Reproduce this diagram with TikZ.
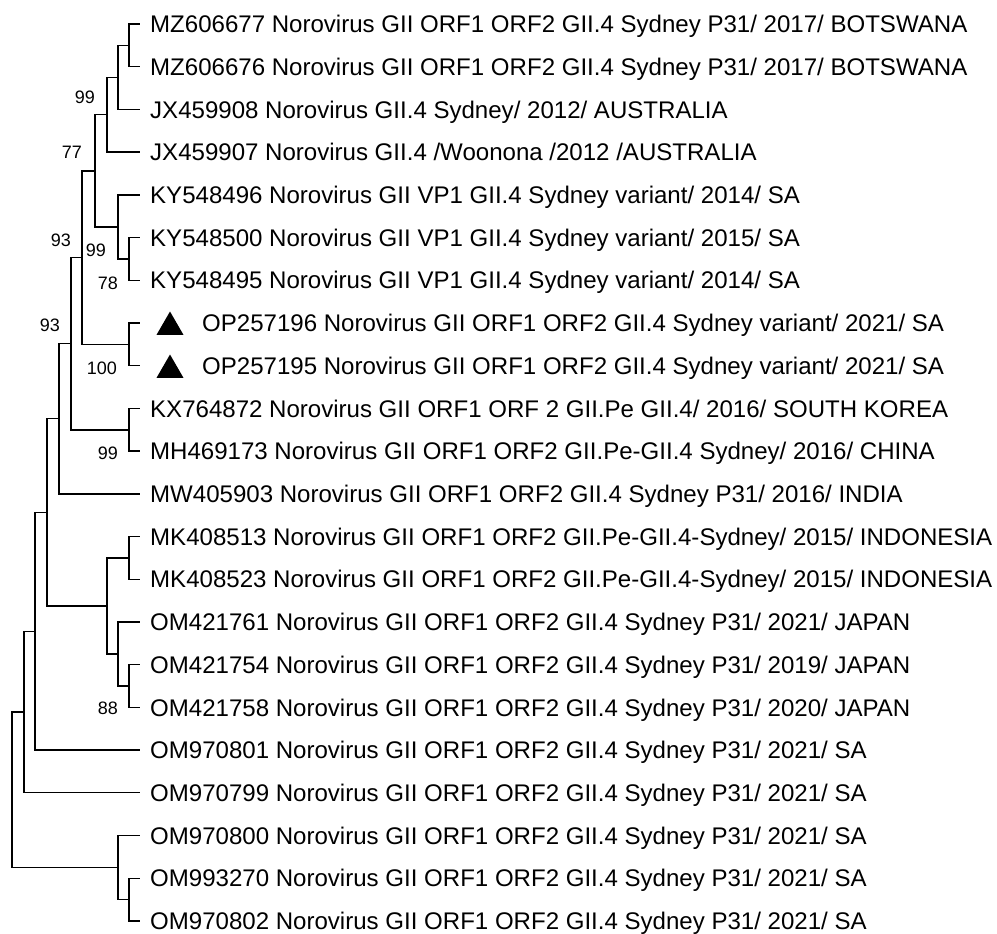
\documentclass[tikz,border=0pt]{standalone}
\usepackage{fontspec}
\setmainfont{Liberation Sans}
\usetikzlibrary{shapes.geometric}
\begin{document}
\begin{tikzpicture}[x=1pt, y=-1pt,
  branch/.style={line width=1.4pt},
  taxon/.style={anchor=base west, inner sep=0pt, font=\fontsize{24.05}{28}\selectfont},
  boot/.style={anchor=east, inner sep=0pt, font=\fontsize{18}{20}\selectfont},
  marker/.style={regular polygon, regular polygon sides=3, fill=black,
    inner sep=0pt, minimum size=31pt}]
\useasboundingbox (0,0) rectangle (997,934);
% taxa
\foreach \lab [count=\i] in {
  MZ606677 Norovirus GII ORF1 ORF2 GII.4 Sydney P31/ 2017/ BOTSWANA,
  MZ606676 Norovirus GII ORF1 ORF2 GII.4 Sydney P31/ 2017/ BOTSWANA,
  JX459908 Norovirus GII.4 Sydney/ 2012/ AUSTRALIA,
  JX459907 Norovirus GII.4 /Woonona /2012 /AUSTRALIA,
  KY548496 Norovirus GII VP1 GII.4 Sydney variant/ 2014/ SA,
  KY548500 Norovirus GII VP1 GII.4 Sydney variant/ 2015/ SA,
  KY548495 Norovirus GII VP1 GII.4 Sydney variant/ 2014/ SA,
  OP257196 Norovirus GII ORF1 ORF2 GII.4 Sydney variant/ 2021/ SA,
  OP257195 Norovirus GII ORF1 ORF2 GII.4 Sydney variant/ 2021/ SA,
  KX764872 Norovirus GII ORF1 ORF 2 GII.Pe GII.4/ 2016/ SOUTH KOREA,
  MH469173 Norovirus GII ORF1 ORF2 GII.Pe-GII.4 Sydney/ 2016/ CHINA,
  MW405903 Norovirus GII ORF1 ORF2 GII.4 Sydney P31/ 2016/ INDIA,
  MK408513 Norovirus GII ORF1 ORF2 GII.Pe-GII.4-Sydney/ 2015/ INDONESIA,
  MK408523 Norovirus GII ORF1 ORF2 GII.Pe-GII.4-Sydney/ 2015/ INDONESIA,
  OM421761 Norovirus GII ORF1 ORF2 GII.4 Sydney P31/ 2021/ JAPAN,
  OM421754 Norovirus GII ORF1 ORF2 GII.4 Sydney P31/ 2019/ JAPAN,
  OM421758 Norovirus GII ORF1 ORF2 GII.4 Sydney P31/ 2020/ JAPAN,
  OM970801 Norovirus GII ORF1 ORF2 GII.4 Sydney P31/ 2021/ SA,
  OM970799 Norovirus GII ORF1 ORF2 GII.4 Sydney P31/ 2021/ SA,
  OM970800 Norovirus GII ORF1 ORF2 GII.4 Sydney P31/ 2021/ SA,
  OM993270 Norovirus GII ORF1 ORF2 GII.4 Sydney P31/ 2021/ SA,
  OM970802 Norovirus GII ORF1 ORF2 GII.4 Sydney P31/ 2021/ SA}
{
  \pgfmathsetmacro\ty{24+42.71*(\i-1)}
  \pgfmathsetmacro\tx{(\i==8 || \i==9) ? 202 : 150}
  \coordinate (t\i) at (140,\ty);
  \node[taxon] (l\i) at (\tx,\ty+8.7) {\lab};
}
\node[marker] (m8) at (170,327) {};
\node[marker] (m9) at (170,370) {};
% internal nodes
\coordinate (a1) at (129,45.4);
\coordinate (a2) at (118,77.4);
\coordinate (a3) at (107,114.7);
\coordinate (b1) at (129,258.9);
\coordinate (b2) at (118,226.9);
\coordinate (a4) at (95,170.8);
\coordinate (c1) at (129,344.4);
\coordinate (a5) at (82,257.6);
\coordinate (d1) at (129,429.8);
\coordinate (a6) at (71,343.7);
\coordinate (a7) at (59,418.7);
\coordinate (e1) at (129,557.9);
\coordinate (e2) at (129,686.0);
\coordinate (e3) at (118,654.0);
\coordinate (e4) at (107,605.9);
\coordinate (a8) at (47,512.3);
\coordinate (a9) at (35,631.2);
\coordinate (a10) at (24,712.0);
\coordinate (f1) at (129,899.6);
\coordinate (f2) at (118,867.5);
\coordinate (root) at (12,789.8);
% branches
\foreach \p/\c in {a1/t1, a1/t2, a2/a1, a2/t3, a3/a2, a3/t4,
  b1/t6, b1/t7, b2/t5, b2/b1, a4/a3, a4/b2,
  c1/t8, c1/t9, a5/a4, a5/c1, d1/t10, d1/t11, a6/a5, a6/d1,
  a7/a6, a7/t12, e1/t13, e1/t14, e2/t16, e2/t17, e3/t15, e3/e2,
  e4/e1, e4/e3, a8/a7, a8/e4, a9/a8, a9/t18, a10/a9, a10/t19,
  f1/t21, f1/t22, f2/t20, f2/f1, root/a10, root/f2}
  \draw[branch] (\p) |- (\c);
% bootstrap values
\node[boot] (s3) at (95,97) {99};
\node[boot] (s4) at (82,152) {77};
\node[boot] (s5) at (71,240) {93};
\node[boot] (sb2) at (106,250) {99};
\node[boot] (sb1) at (118,283) {78};
\node[boot] (s6) at (60,325) {93};
\node[boot] (sc1) at (117,368) {100};
\node[boot] (sd1) at (118,453) {99};
\node[boot] (se2) at (118,708) {88};
\end{tikzpicture}
\end{document}
